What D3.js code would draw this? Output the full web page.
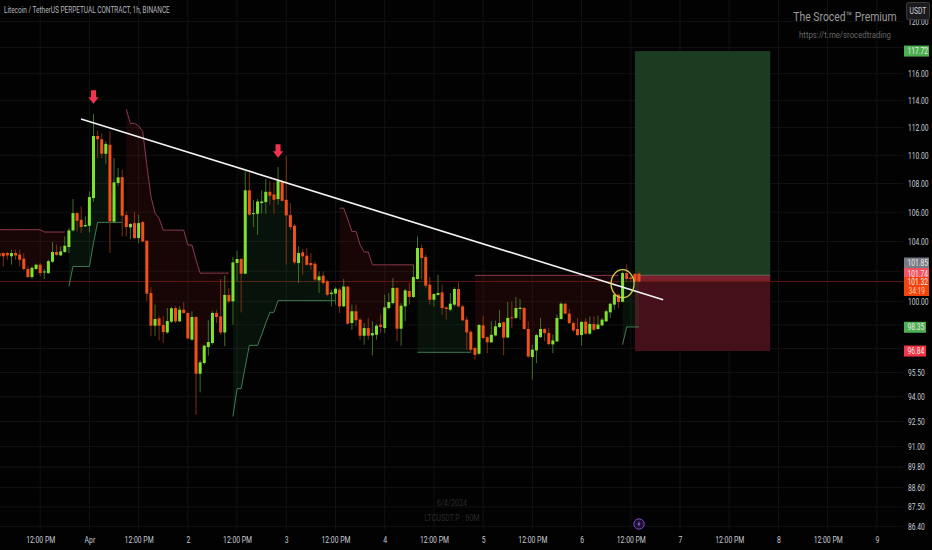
<!DOCTYPE html>
<html><head><meta charset="utf-8">
<script src="https://cdn.jsdelivr.net/npm/d3@7/dist/d3.min.js"></script>
<style>
html,body{margin:0;padding:0;background:#000;overflow:hidden}
svg{display:block}
text{font-family:"Roboto",sans-serif}
</style></head><body>
<svg id="c" width="932" height="550"></svg>
<script>
const firstBar = Date.UTC(2024,2,31,2);
const opens = [103.22,103.22,103.22,103.00,103.22,103.11,102.84,102.15,101.62,102.15,
102.44,101.93,101.88,102.64,103.29,103.06,103.29,103.62,104.75,105.94,
105.48,105.03,105.07,106.98,111.39,111.15,110.11,110.75,105.35,108.03,
108.45,105.80,104.96,105.25,104.23,105.32,104.05,100.57,98.45,98.92,
98.50,98.02,98.71,99.59,98.73,99.48,99.27,97.56,99.01,95.42,
96.09,97.09,97.35,99.27,99.05,98.02,100.44,100.02,102.55,102.82,
101.84,107.52,105.89,105.89,106.63,106.70,107.42,107.23,106.91,108.12,
106.86,105.80,105.07,102.55,103.27,103.04,102.55,102.50,101.40,101.71,
101.34,100.50,100.53,100.79,99.70,100.99,98.62,99.38,98.84,97.81,
98.30,97.83,97.87,98.52,98.30,99.59,99.91,100.90,98.26,99.70,
100.70,100.31,101.49,103.56,102.95,101.12,100.13,100.44,100.61,99.63,
99.48,99.81,100.83,99.70,98.84,98.06,97.03,96.67,98.48,97.72,
97.39,97.83,98.37,98.67,97.70,98.99,98.95,99.53,99.59,98.24,
96.46,96.88,97.72,98.24,97.98,97.26,97.45,98.88,99.87,99.23,
98.62,98.24,97.85,98.71,97.94,98.56,98.24,98.47,98.73,99.31,
99.81,100.46,100.00,101.88,101.60,101.82,101.85];
const highs = [103.67,103.26,103.29,103.44,103.44,103.44,103.22,102.32,102.32,102.50,
102.55,102.15,102.77,103.96,103.78,103.67,104.34,104.91,106.91,105.99,
106.40,105.71,107.45,113.00,111.78,111.59,110.99,111.71,109.80,109.08,
108.97,106.06,105.25,106.03,105.83,105.41,104.07,100.96,99.81,99.05,
99.05,99.59,99.66,99.70,99.70,99.98,99.31,99.38,99.05,96.25,
97.24,98.80,99.38,99.48,101.49,101.71,100.90,102.95,103.38,102.88,
108.85,108.78,106.86,106.91,107.52,108.31,108.15,108.08,109.16,108.26,
109.96,106.63,105.19,103.67,103.49,103.56,103.22,102.66,101.99,101.99,
101.45,100.79,100.94,100.90,101.49,101.01,99.81,99.81,98.95,98.62,
98.95,98.73,98.56,99.16,100.46,100.57,101.55,100.96,99.91,100.85,
101.23,102.43,104.34,103.78,103.11,101.62,100.57,101.77,101.12,99.70,
100.57,100.94,101.27,99.81,99.05,98.19,97.09,98.56,99.10,97.77,
98.73,98.77,99.48,98.73,99.98,100.00,100.31,100.18,99.66,98.73,
97.24,97.94,98.95,98.30,98.30,97.87,99.16,99.96,99.91,99.53,
98.73,98.95,98.77,98.95,99.05,99.05,99.10,98.95,99.48,99.91,
100.57,100.53,101.99,102.46,101.75,101.90,102.00];
const lows = [102.88,102.32,102.77,102.44,102.77,102.32,102.06,101.55,101.49,102.10,
101.66,101.49,101.84,102.55,103.04,103.04,103.22,103.22,104.68,104.68,
104.57,104.98,104.61,106.74,109.80,109.80,109.39,103.22,105.25,107.84,
104.34,104.34,104.16,104.16,103.89,103.94,100.02,97.77,97.81,97.51,
97.35,97.94,98.62,98.62,98.69,99.23,97.56,97.51,92.91,94.27,
95.98,96.55,97.24,98.62,97.87,97.14,99.91,98.52,101.34,99.31,
101.84,105.76,104.98,104.45,105.89,105.89,106.51,105.89,106.51,106.74,
102.44,104.80,102.44,101.23,101.77,102.37,102.10,101.34,100.57,101.12,
100.35,99.70,99.81,99.27,99.66,98.52,98.19,98.41,97.56,97.24,
97.56,96.57,97.56,97.98,97.98,99.48,99.81,97.45,97.18,98.73,
99.81,100.24,101.45,101.45,100.90,99.81,99.70,100.39,99.16,98.84,
99.38,99.70,99.63,98.73,96.92,96.71,96.29,96.60,97.60,96.71,
97.35,97.77,98.30,96.57,97.64,98.30,98.88,98.84,98.19,96.40,
95.05,96.08,97.66,97.45,97.18,96.71,97.41,98.84,99.16,98.56,
98.06,97.77,97.18,97.85,97.87,98.09,98.19,98.41,98.69,98.95,
99.48,99.59,99.96,101.34,101.35,101.27,101.25];
const closes = [103.00,103.00,103.06,103.22,103.06,102.77,102.15,101.62,102.23,102.44,
101.88,101.99,102.68,103.29,103.09,103.33,103.71,104.75,105.94,105.41,
104.98,105.12,107.05,111.39,111.15,110.11,110.82,105.37,108.08,108.43,
105.76,104.98,105.19,104.23,105.25,104.00,100.53,98.45,98.88,98.45,
98.04,98.75,99.57,98.73,99.48,99.27,97.64,99.01,95.42,96.13,
97.18,97.41,99.27,99.01,98.02,100.44,100.02,102.59,102.82,101.84,
107.52,105.83,105.94,106.74,106.74,107.42,107.14,106.86,108.17,106.79,
105.78,104.98,102.59,103.22,103.00,102.43,102.41,101.45,101.66,101.23,
100.46,100.59,100.85,99.70,100.99,98.58,99.38,98.80,97.81,98.30,
97.81,97.98,98.45,98.37,99.63,99.98,100.90,98.26,99.74,100.74,
100.31,101.62,103.56,102.88,101.05,100.13,100.50,100.57,99.59,99.53,
99.87,100.83,99.70,98.80,98.02,96.92,96.60,98.50,97.66,97.39,
97.87,98.41,98.62,97.70,98.95,98.95,99.59,99.61,98.24,96.50,
96.93,97.85,98.24,97.98,97.28,97.51,98.95,99.87,99.23,98.62,
98.15,97.85,98.69,97.94,98.56,98.19,98.52,98.84,99.38,99.87,
100.46,99.98,101.88,101.49,101.50,101.32,101.32];

// Trailing-stop indicator, one value per bar, starting at the given bar number
const redStops = [
 {start:0, values:[104.8,104.8,104.8,104.8,104.8,104.8,104.8,104.8,104.8,104.8,104.8,104.64,104.64,104.64,104.64,104.64,104.64]},
 {start:31, values:[113.34,112.31,112.31,112.12,111.71,109.32,107.09,105.94,105.57,104.77,104.77,104.77,104.77,104.77,104.77,103.76,103.76,102.77,101.88,101.88,101.88,101.88,101.88,101.88,101.88,101.88]},
 {start:83, values:[106.28,106.28,105.5,104.68,104.68,103.78,103.29,103.29,102.43,102.43,102.43,102.43,102.43,102.43,102.43,102.43,102.43,102.43,102.43]},
 {start:116, values:[101.73,101.73,101.73,101.73,101.73,101.73,101.73,101.73,101.73,101.73,101.73,101.73,101.73,101.73,101.73,101.73,101.73,101.73,101.73,101.73,101.73,101.73,101.73,101.73,101.73,101.73,101.73,101.73,101.73,101.73,101.73,101.73,101.73,101.73,101.73,101.73]}
];
const greenStops = [
 {start:17, values:[101.0,102.32,102.32,102.32,102.32,102.32,103.9,105.3,105.3,105.3,105.3,105.3,105.3,105.3]},
 {start:57, values:[92.8,94.5,94.5,95.87,97.2,97.2,97.2,97.87,98.62,99.31,99.31,100.07,100.07,100.07,100.07,100.07,100.07,100.07,100.07,100.07,100.07,100.07,100.07,100.07,100.07,100.07]},
 {start:102, values:[96.76,96.76,96.76,96.76,96.76,96.76,96.76,96.76,96.76,96.76,96.76,96.76,96.76,96.76]},
 {start:152, values:[97.24,98.37,98.37,98.37,98.37]}
];

const gridPrices = [120,118,116,114,112,110,108,106,104,102,100,98.5,97,95.5,94,92.5,91,89.8,88.6,87.5,86.4];
const priceTicks = [120,116,114,112,110,108,106,104,100,95.5,94,92.5,91,89.8,88.6,87.5,86.4];
const lastPrice = 101.32;
const entryPrice = 101.74;
const targetPrice = 117.72;
const stopPrice = 96.84;
const boxBars = [155,188];
const trendBars = [19.95,161.9];
const trendPrices = [112.63,100.13];
const arrowBars = [23,68];
const arrowPrices = [114.75,110.8];
const circleBar = 152;
const circlePrice = 101.18;
const priceTags = [
 {label:"117.72", price:117.72, color:"#4caf50", w:25},
 {label:"101.85", price:102.55, color:"#787b86", w:25},
 {label:"101.74", price:101.85, color:"#f7525f", w:25},
 {label:"98.35", price:98.35, color:"#4caf50", w:22},
 {label:"96.84", price:96.84, color:"#f23645", w:22}
];
const titleText = "Litecoin / TetherUS PERPETUAL CONTRACT, 1h, BINANCE";

const svg = d3.select("#c");
svg.append("rect").attr("width",932).attr("height",550).attr("fill","#020202");

// squeeze a text horizontally to the narrow face of the reference
function narrow(sel, factor){
  sel.each(function(){
    const w = this.getComputedTextLength()*factor;
    d3.select(this).attr("textLength",w).attr("lengthAdjust","spacingAndGlyphs");
  });
  return sel;
}

const barTime = i => new Date(firstBar + i*3600e3);
const x = d3.scaleUtc().domain([Date.UTC(2024,3,1), Date.UTC(2024,3,7)]).range([89.4,680]);
const y = d3.scaleLog().domain([86.4,121.7]).range([526.3,0]);
const xb = i => x(barTime(i));
const timeTicks = d3.utcHour.range(new Date(Date.UTC(2024,2,31,12)), new Date(Date.UTC(2024,3,9,1)), 12);
const fmtTime = d => d.getUTCHours()===12 ? "12:00 PM" : (d.getUTCDate()===1 ? "Apr" : String(d.getUTCDate()));

const root = svg.append("g").style("filter","blur(0.35px)");

// grid
root.append("g").selectAll("line").data(gridPrices).join("line")
 .attr("x1",0).attr("x2",903).attr("y1",d=>y(d)).attr("y2",d=>y(d)).attr("stroke","#121212");
root.append("g").selectAll("line").data(timeTicks).join("line")
 .attr("y1",0).attr("y2",530).attr("x1",d=>x(d)).attr("x2",d=>x(d)).attr("stroke","#121212");

// position box
const box = root.append("g");
const bx0 = xb(boxBars[0]), bw = xb(boxBars[1])-bx0;
const rectBetween = (a,b,fill) => box.append("rect").attr("x",bx0).attr("width",bw)
  .attr("y",y(a)).attr("height",y(b)-y(a)).attr("fill",fill);
rectBetween(targetPrice,entryPrice,"#1b3c20");
rectBetween(entryPrice,lastPrice,"#7a1f2c");
rectBetween(lastPrice,stopPrice,"#46101a");
box.append("line").attr("x1",bx0).attr("x2",bx0+bw).attr("y1",y(entryPrice)).attr("y2",y(entryPrice)).attr("stroke","#77706a").attr("stroke-width",.8);

// last price line
root.append("line").attr("x1",0).attr("x2",903).attr("y1",y(lastPrice)).attr("y2",y(lastPrice))
 .attr("stroke","#6e2112").attr("stroke-width",.8);

// stops
const mid = i => (opens[i]+closes[i])/2;
function drawStops(list,fill,stroke){
  list.forEach(seg=>{
    const pts = seg.values.map((v,k)=>({i:seg.start+k,v}));
    root.append("path").datum(pts).attr("fill",fill)
      .attr("d",d3.area().x(d=>xb(d.i)).y0(d=>y(d.v)).y1(d=>y(mid(d.i))));
    root.append("path").datum(pts).attr("fill","none").attr("stroke",stroke).attr("stroke-width",1)
      .attr("d",d3.line().x(d=>xb(d.i)).y(d=>y(d.v)));
  });
}
drawStops(redStops,"rgba(125,28,28,0.18)","#8d3a50");
drawStops(greenStops,"rgba(40,120,60,0.15)","#3f7d55");

// candles
const bars = d3.range(opens.length);
const up = i => closes[i]>=opens[i];
root.append("g").selectAll("line").data(bars).join("line")
 .attr("x1",xb).attr("x2",xb).attr("y1",i=>y(highs[i])).attr("y2",i=>y(lows[i]))
 .attr("stroke",i=>up(i)?"#3f7026":"#7f3015").attr("stroke-width",1);
root.append("g").selectAll("rect").data(bars).join("rect")
 .attr("x",i=>xb(i)-1.5).attr("width",3)
 .attr("y",i=>y(Math.max(opens[i],closes[i])))
 .attr("height",i=>Math.max(1,Math.abs(y(opens[i])-y(closes[i]))))
 .attr("fill",i=>up(i)?"#7fe32e":"#f0501a");

// trend line
root.append("line").attr("x1",xb(trendBars[0])).attr("x2",xb(trendBars[1]))
 .attr("y1",y(trendPrices[0])).attr("y2",y(trendPrices[1])).attr("stroke","#f2f2f2").attr("stroke-width",1.6);

// circle
root.append("ellipse").attr("cx",xb(circleBar)).attr("cy",y(circlePrice)).attr("rx",11.5).attr("ry",14)
 .attr("fill","none").attr("stroke","#d8d24a").attr("stroke-width",1.3);

// arrows
root.append("g").selectAll("path").data(arrowBars).join("path")
 .attr("transform",(b,k)=>`translate(${xb(b)},${y(arrowPrices[k])})`)
 .attr("d","M-2.5,0H2.5V7H5.2L0,13.5L-5.2,7H-2.5Z").attr("fill","#f23350");

// axes
const yAxis = d3.axisRight(y).tickValues(priceTicks).tickSize(0).tickPadding(0).tickFormat(d3.format(".2f"));
const ya = svg.append("g").attr("transform","translate(908,0)").call(yAxis);
ya.select(".domain").remove();
ya.selectAll("text").attr("fill","#c8ccd4").style("font-size","9px").attr("font-family","Roboto,sans-serif");
narrow(ya.selectAll("text"),.74);
const xAxis = d3.axisBottom(x).tickValues(timeTicks).tickSize(0).tickPadding(0).tickFormat(fmtTime);
const xa = svg.append("g").attr("transform","translate(0,537)").call(xAxis);
xa.select(".domain").remove();
xa.selectAll("text").attr("fill","#c8ccd4").style("font-size","9px").attr("font-family","Roboto,sans-serif");
narrow(xa.selectAll("text"),.76);

// price tags
const tags = svg.append("g").selectAll("g").data(priceTags).join("g")
 .attr("transform",d=>`translate(904,${y(d.price)})`);
tags.append("rect").attr("y",-5.5).attr("height",11).attr("width",d=>d.w).attr("fill",d=>d.color);
narrow(tags.append("text").attr("x",3.5).attr("dy","0.34em").text(d=>d.label).attr("fill","#e8e8e8").style("font-size","9px"),.74);
const lp = svg.append("g").attr("transform",`translate(904,277)`);
lp.append("rect").attr("width",25).attr("height",19).attr("fill","#f4420f");
narrow(lp.append("text").attr("x",3.5).attr("y",7.5).text(lastPrice.toFixed(2)).attr("fill","#eee").style("font-size","9px"),.74);
narrow(lp.append("text").attr("x",4.5).attr("y",16.5).text("34:19").attr("fill","#ffd0a8").style("font-size","8.5px"),.78);

// texts
narrow(svg.append("text").attr("x",4).attr("y",13).text(titleText).attr("fill","#b4b7bf").style("font-size","9.5px"),.68);
narrow(svg.append("text").attr("x",845).attr("y",21).attr("text-anchor","middle").text("The Sroced™ Premium").attr("fill","#9a9a9a").style("font-size","13px"),.8);
narrow(svg.append("text").attr("x",845).attr("y",38).attr("text-anchor","middle").text("https://t.me/srocedtrading").attr("fill","#666").style("font-size","9.5px"),.82);
const us = svg.append("g");
us.append("rect").attr("x",906.5).attr("y",2.5).attr("width",23).attr("height",17).attr("rx",2).attr("fill","#1b1b1d").attr("stroke","#3a3a3e");
narrow(us.append("text").attr("x",918).attr("y",14).attr("text-anchor","middle").text("USDT").attr("fill","#c8ccd4").style("font-size","8.5px"),.8);
narrow(svg.append("text").attr("x",452).attr("y",506).attr("text-anchor","middle").text("6/4/2024").attr("fill","#2a2a2a").style("font-size","8.5px"),.85);
narrow(svg.append("text").attr("x",452).attr("y",521).attr("text-anchor","middle").text("LTCUSDT.P : 60M").attr("fill","#2a2a2a").style("font-size","8.5px"),.85);
const ic = svg.append("g").attr("transform","translate(639,524)");
ic.append("circle").attr("r",5.2).attr("fill","#1c1030").attr("stroke","#7d45c9").attr("stroke-width",1);
ic.append("path").attr("d","M0.8,-3.2L-1.6,0.4H0L-0.8,3.2L1.6,-0.6H0Z").attr("fill","#a86ee8");
</script>
</body></html>
